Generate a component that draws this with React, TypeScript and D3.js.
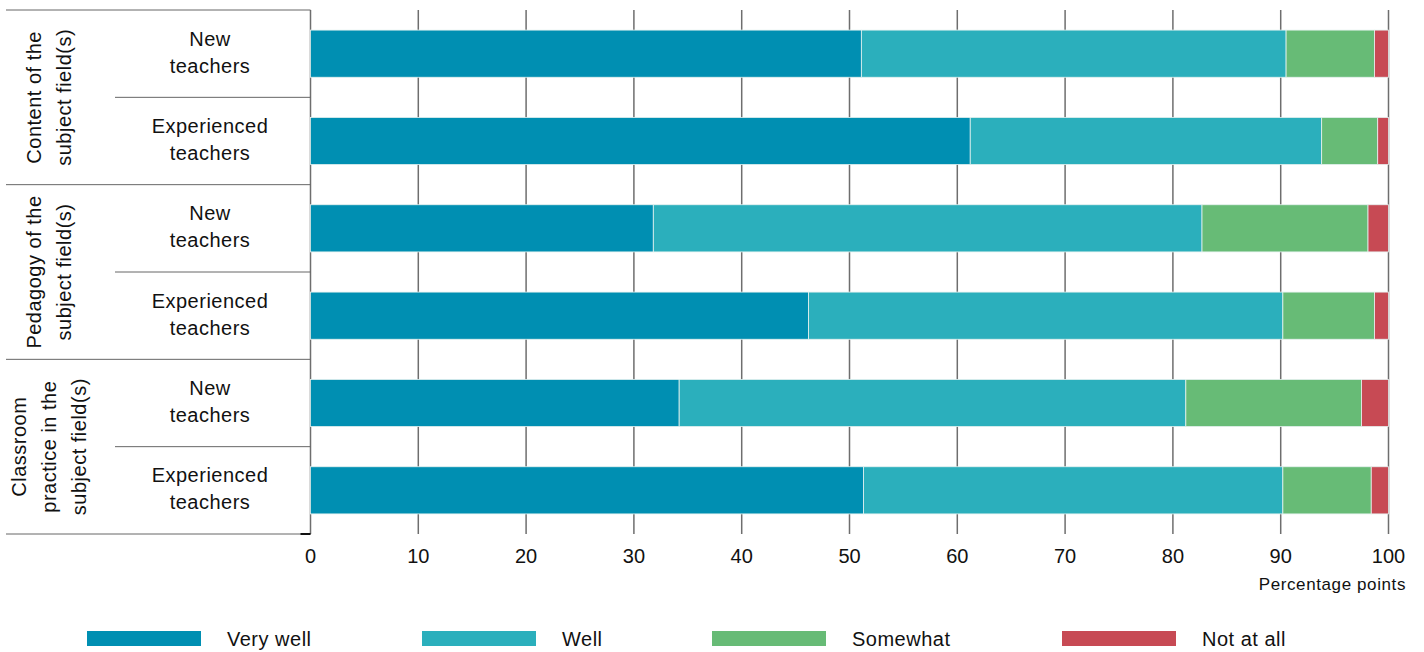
import React from "react";
import * as d3 from "d3";

const groups = ["Content of the subject field(s)", "Pedagogy of the subject field(s)", "Classroom practice in the subject field(s)"];
const groupLines = [["Content of the", "subject field(s)"], ["Pedagogy of the", "subject field(s)"], ["Classroom", "practice in the", "subject field(s)"]];
const subgroups = ["New teachers", "Experienced teachers"];
const subLines = [["New", "teachers"], ["Experienced", "teachers"]];
const seriesNames = ["Very well", "Well", "Somewhat", "Not at all"];
const seriesColors = ["#008FB2", "#2BAFBC", "#67BB76", "#C74A54"];
const veryWell = [51.1, 61.2, 31.8, 46.2, 34.2, 51.3];
const well = [39.4, 32.6, 50.9, 44.0, 47.0, 38.9];
const somewhat = [8.2, 5.2, 15.4, 8.5, 16.3, 8.2];
const notAtAll = [1.3, 1.0, 1.9, 1.3, 2.5, 1.6];
const xTicks = [0, 10, 20, 30, 40, 50, 60, 70, 80, 90, 100];

const W = 1424, H = 652;
const X0 = 310.5, X1 = 1388.5, TOP = 10, BOT = 534;
const FONT = "'Liberation Sans', Arial, Helvetica, sans-serif";
const LS = 0.5;

export default function App() {
  const rows = d3.range(6).map((i) => `r${i}`);
  const x = d3.scaleLinear().domain([0, 100]).range([X0, X1]);
  const y = d3.scaleBand().domain(rows).range([TOP, BOT]).paddingInner(0.46).paddingOuter(0.23);
  const yRow = d3.scaleBand().domain(rows).range([TOP, BOT]);
  const data = rows.map((r, i) => ({ key: r, v0: veryWell[i], v1: well[i], v2: somewhat[i], v3: notAtAll[i] }));
  const stack = d3.stack<any>().keys(["v0", "v1", "v2", "v3"])(data);
  const lineColor = "#666";

  return (
    <svg width={W} height={H} style={{ position: "absolute", left: 0, top: 0, background: "#fff" }} fontFamily={FONT}>
      {/* gridlines */}
      {xTicks.map((t) => (
        <line key={t} x1={x(t)} x2={x(t)} y1={TOP} y2={BOT} stroke="#6e6e6e" strokeWidth={1.5} />
      ))}
      {/* bars */}
      {stack.map((s, si) => (
        <g key={si}>
          {s.map((d, i) => (
            <rect key={i} x={x(d[0])} y={y(rows[i])!} width={x(d[1]) - x(d[0])} height={y.bandwidth()}
              fill={seriesColors[si]} stroke="#e6f2f0" strokeWidth={0.8} />
          ))}
        </g>
      ))}
      {/* table lines */}
      <line x1={6} x2={X0} y1={TOP} y2={TOP} stroke={lineColor} strokeWidth={1} />
      {groups.map((g, gi) => {
        const yb = yRow(rows[gi * 2 + 1])! + yRow.bandwidth();
        const ym = yRow(rows[gi * 2 + 1])!;
        return (
          <g key={g}>
            <line x1={6} x2={X0} y1={yb} y2={yb} stroke={lineColor} strokeWidth={1} />
            <line x1={115} x2={X0} y1={ym} y2={ym} stroke={lineColor} strokeWidth={1} />
          </g>
        );
      })}
      {/* group labels */}
      {groupLines.map((lines, gi) => {
        const cy = (yRow(rows[gi * 2])! + yRow(rows[gi * 2 + 1])! + yRow.bandwidth()) / 2;
        const cx = 56;
        const lh = 30;
        return (
          <g key={gi}>
            {lines.map((ln, li) => {
              const lx = cx + (li - (lines.length - 1) / 2) * lh;
              return (
                <text key={li} transform={`translate(${lx},${cy}) rotate(-90)`} textAnchor="middle" fontSize={20} letterSpacing={LS} fill="#111">
                  {ln}
                </text>
              );
            })}
          </g>
        );
      })}
      {/* subgroup labels */}
      {rows.map((r, i) => {
        const cy = yRow(r)! + yRow.bandwidth() / 2;
        const lines = subLines[i % 2];
        return (
          <text key={r} textAnchor="middle" fontSize={20} letterSpacing={LS} fill="#111">
            <tspan x={210} y={cy - 8}>{lines[0]}</tspan>
            <tspan x={210} y={cy + 19}>{lines[1]}</tspan>
          </text>
        );
      })}
      <line x1={X0 - 10} x2={X0} y1={BOT} y2={BOT} stroke="#111" strokeWidth={2} />
      {/* x tick labels */}
      {xTicks.map((t) => (
        <text key={t} x={x(t)} y={563} textAnchor="middle" fontSize={20} fill="#111">{t}</text>
      ))}
      <text x={1406} y={590} textAnchor="end" fontSize={17} letterSpacing={0.6} fill="#111">Percentage points</text>
      {/* legend */}
      {seriesNames.map((n, i) => {
        const lx = [87, 422, 712, 1062][i];
        return (
          <g key={n}>
            <rect x={lx} y={631} width={114} height={15} fill={seriesColors[i]} />
            <text x={lx + 140} y={646} fontSize={20} letterSpacing={LS} fill="#111">{n}</text>
          </g>
        );
      })}
    </svg>
  );
}
